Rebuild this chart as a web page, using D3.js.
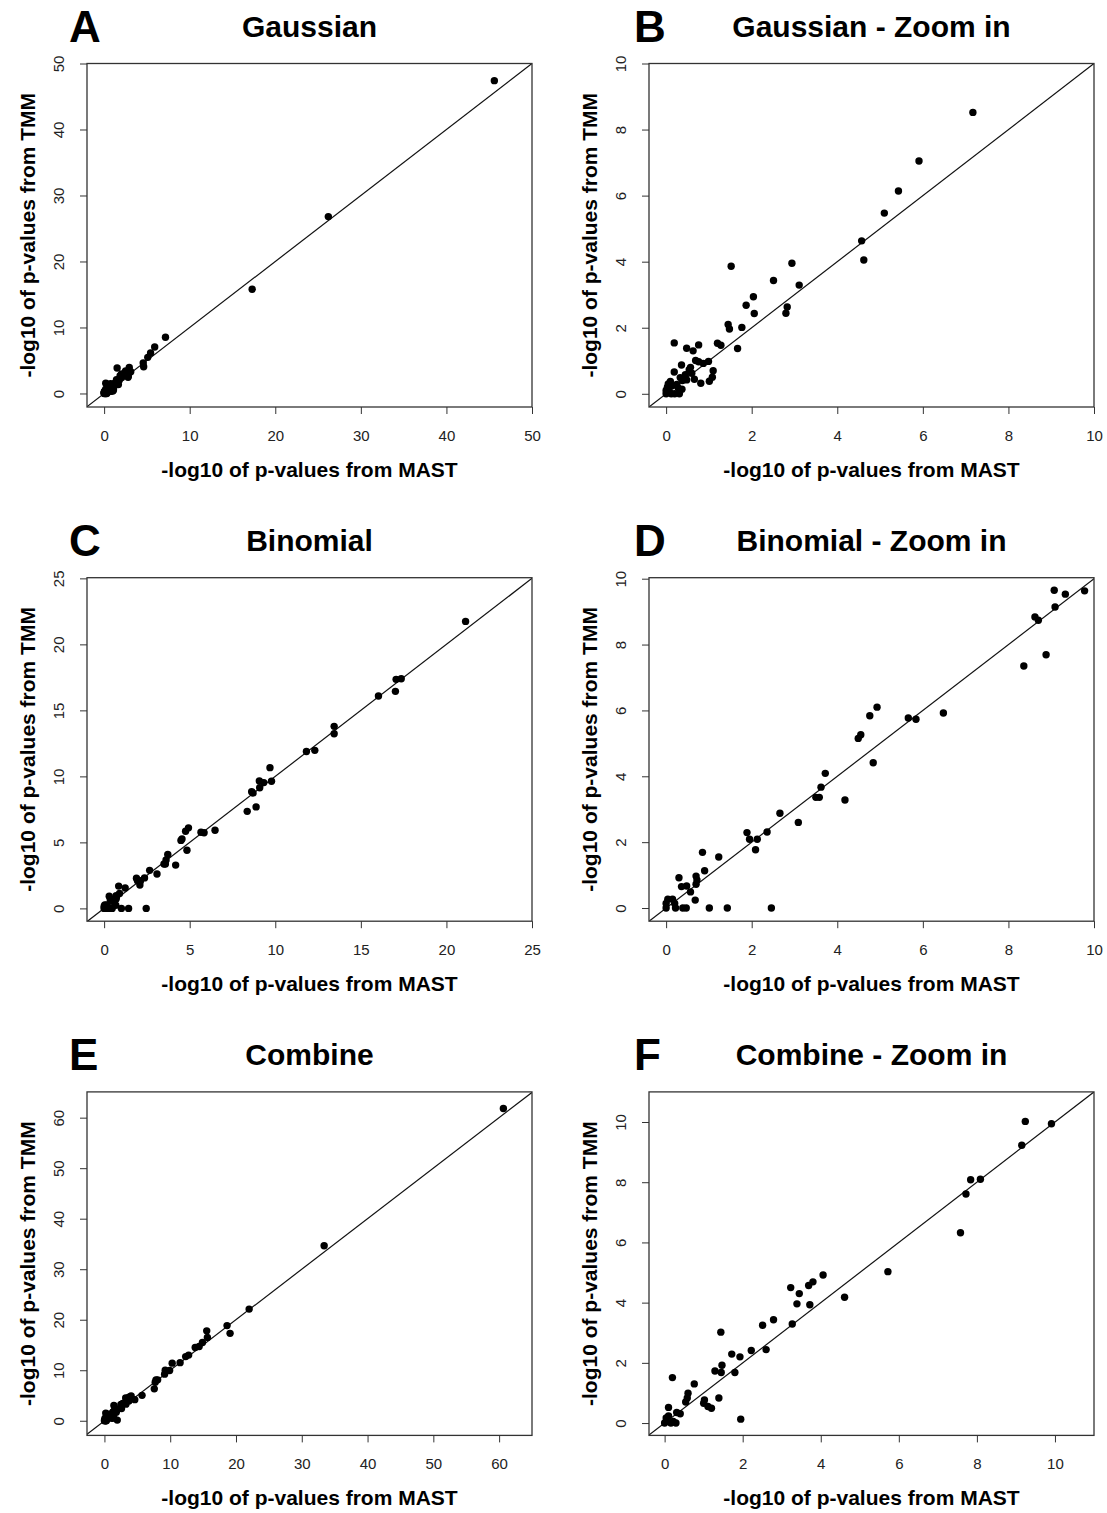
<!DOCTYPE html>
<html>
<head>
<meta charset="utf-8">
<script src="https://cdn.jsdelivr.net/npm/d3@7"></script>
<style>
  body { margin: 0; background: #fff; }
  svg { display: block; }
  text { font-family: "Liberation Sans", Arial, Helvetica, sans-serif; }
</style>
</head>
<body>
<svg id="fig" width="1107" height="1513"></svg>
<script>
// -log10 p-values: [MAST, TMM] for each gene
const gaussian = [
  [45.6, 47.4], [26.2, 26.8], [17.3, 15.8],
  [7.17, 8.52], [5.91, 7.05], [5.43, 6.14], [5.10, 5.47], [4.57, 4.63], [4.62, 4.05],
  [1.52, 3.86], [2.94, 3.95], [2.51, 3.43], [3.11, 3.29], [2.04, 2.94], [1.87, 2.68],
  [2.06, 2.43], [2.83, 2.63], [2.80, 2.44],
  [1.45, 2.10], [1.48, 1.96], [1.77, 2.01], [1.67, 1.37], [1.20, 1.53], [1.28, 1.47],
  [0.19, 1.54], [0.48, 1.38], [0.63, 1.30], [0.76, 1.48],
  [0.69, 1.01], [0.87, 0.92], [0.99, 0.98], [0.36, 0.87], [0.76, 0.97],
  [1.10, 0.70], [1.08, 0.50], [1.01, 0.38], [0.81, 0.32], [0.66, 0.44],
  [0.19, 0.66], [0.54, 0.73], [0.45, 0.58], [0.33, 0.49], [0.10, 0.37], [0.38, 0.40],
  [0.48, 0.42], [0.57, 0.80],
  [0.37, 0.14], [0.31, 0.00], [0.20, 0.00], [0.00, 0.10], [0.00, 0.00], [0.03, 0.20],
  [0.08, 0.04], [0.25, 0.28], [0.60, 0.62], [0.14, 0.24], [0.05, 0.30], [0.28, 0.18],
  [0.12, 0.00], [0.02, 0.06]
];

const binomial = [
  [21.12, 21.74], [17.36, 17.40], [17.06, 17.35], [17.02, 16.44], [16.03, 16.09],
  [13.44, 13.79], [13.44, 13.23], [12.31, 11.97], [11.82, 11.89], [9.69, 10.66],
  [9.78, 9.63], [9.33, 9.53], [9.07, 9.65], [9.09, 9.14], [8.62, 8.84], [8.70, 8.74],
  [8.88, 7.69], [8.36, 7.35],
  [6.48, 5.92], [5.66, 5.77], [5.84, 5.73], [4.93, 6.10], [4.76, 5.84], [4.55, 5.26],
  [4.49, 5.15], [4.84, 4.41],
  [3.72, 4.09], [3.62, 3.67], [3.50, 3.36], [3.58, 3.36], [4.18, 3.28], [2.66, 2.88],
  [3.09, 2.60], [2.36, 2.31],
  [1.89, 2.29], [1.95, 2.09], [2.13, 2.09], [2.09, 1.77], [0.85, 1.69], [1.23, 1.55],
  [0.90, 1.13],
  [0.30, 0.92], [0.70, 0.97], [0.36, 0.65], [0.48, 0.67], [0.70, 0.72], [0.57, 0.49],
  [0.68, 0.24], [0.72, 0.85],
  [1.01, 0.00], [1.43, 0.00], [2.46, 0.00], [0.47, 0.00], [0.39, 0.00], [0.22, 0.00],
  [0.00, 0.00], [0.00, 0.14], [0.04, 0.27], [0.15, 0.27], [0.20, 0.14]
];

const combine = [
  [60.65, 61.8], [33.4, 34.65], [22.0, 22.1], [18.64, 18.84], [19.1, 17.3],
  [15.55, 17.8], [15.65, 16.5], [14.9, 15.5], [14.4, 14.7], [13.8, 14.5],
  [12.8, 13.0], [12.35, 12.7], [11.5, 11.5], [10.3, 11.4],
  [9.91, 9.94], [9.24, 10.02], [9.15, 9.23], [8.09, 8.10], [7.84, 8.08], [7.72, 7.61],
  [7.58, 6.32], [5.72, 5.03], [4.61, 4.18],
  [4.06, 4.92], [3.80, 4.69], [3.69, 4.57], [3.45, 4.30], [3.23, 4.50], [3.39, 3.96],
  [3.72, 3.93], [3.27, 3.29], [2.79, 3.43], [2.51, 3.25],
  [2.60, 2.44], [2.22, 2.41], [1.44, 3.02], [1.72, 2.29], [1.93, 2.20], [1.47, 1.92],
  [1.45, 1.68], [1.29, 1.73], [1.80, 1.68],
  [0.20, 1.51], [0.76, 1.30], [0.60, 0.99], [0.58, 0.83], [0.54, 0.70], [1.02, 0.77],
  [1.00, 0.66], [1.11, 0.55], [1.20, 0.49], [1.39, 0.83], [1.95, 0.13],
  [0.10, 0.52], [0.40, 0.31], [0.31, 0.35], [0.29, 0.00], [0.16, 0.00], [0.00, 0.00],
  [0.04, 0.17], [0.10, 0.24], [0.22, 0.05]
];

// tick labels
const ticksGaussian = [0, 10, 20, 30, 40, 50];
const ticksBinomial = [0, 5, 10, 15, 20, 25];
const ticksCombine = [0, 10, 20, 30, 40, 50, 60];
const ticksZoom = [0, 2, 4, 6, 8, 10];

const xTitle = "-log10 of p-values from MAST";
const yTitle = "-log10 of p-values from TMM";

const panels = [
  { letter: "A", title: "Gaussian", data: gaussian, ticks: ticksGaussian,
    xDom: [-2, 50], yDom: [-2.05, 50], col: 0, row: 0 },
  { letter: "B", title: "Gaussian - Zoom in", data: gaussian, ticks: ticksZoom,
    xDom: [-0.4, 10], yDom: [-0.4, 10], col: 1, row: 0 },
  { letter: "C", title: "Binomial", data: binomial, ticks: ticksBinomial,
    xDom: [-1, 25], yDom: [-0.97, 25.05], col: 0, row: 1 },
  { letter: "D", title: "Binomial - Zoom in", data: binomial, ticks: ticksZoom,
    xDom: [-0.4, 10], yDom: [-0.4, 10.03], col: 1, row: 1 },
  { letter: "E", title: "Combine", data: combine, ticks: ticksCombine,
    xDom: [-2.65, 65], yDom: [-2.9, 65.1], col: 0, row: 2 },
  { letter: "F", title: "Combine - Zoom in", data: combine, ticks: ticksZoom,
    xDom: [-0.4, 11], yDom: [-0.41, 11], col: 1, row: 2 }
];

// plot-box geometry
const boxLeft = [87, 649];
const letterX = [69, 634];
const boxW = 445;
const boxH = 343.5;
const rowTop = r => 63.5 + 514.2 * r;
const ink = "#222";

const svg = d3.select("#fig");

panels.forEach((p, i) => {
  const x0 = boxLeft[p.col];
  const y0 = rowTop(p.row);
  const g = svg.append("g").attr("transform", `translate(${x0},${y0})`);

  const x = d3.scaleLinear().domain(p.xDom).range([0, boxW]);
  const y = d3.scaleLinear().domain(p.yDom).range([boxH, 0]);

  const clipId = `clip-${i}`;
  g.append("clipPath").attr("id", clipId)
    .append("rect").attr("width", boxW).attr("height", boxH);

  const plot = g.append("g").attr("clip-path", `url(#${clipId})`);

  // identity line y = x
  const lo = Math.min(p.xDom[0], p.yDom[0]);
  const hi = Math.max(p.xDom[1], p.yDom[1]);
  plot.append("line")
    .attr("x1", x(lo)).attr("y1", y(lo))
    .attr("x2", x(hi)).attr("y2", y(hi))
    .attr("stroke", "#111").attr("stroke-width", 1.2);

  // points
  const inside = p.data.filter(d =>
    d[0] >= p.xDom[0] && d[0] <= p.xDom[1] && d[1] >= p.yDom[0] && d[1] <= p.yDom[1]);
  plot.selectAll("circle").data(inside).join("circle")
    .attr("cx", d => x(d[0]))
    .attr("cy", d => y(d[1]))
    .attr("r", 3.7)
    .attr("fill", "#000");

  // frame
  g.append("rect")
    .attr("width", boxW).attr("height", boxH)
    .attr("fill", "none").attr("stroke", "#333").attr("stroke-width", 1.3);

  // x axis
  const xa = g.append("g").attr("transform", `translate(0,${boxH})`)
    .call(d3.axisBottom(x).tickValues(p.ticks).tickSize(7).tickPadding(16).tickFormat(d3.format("d")));
  xa.select(".domain").remove();
  xa.selectAll(".tick line").attr("stroke", "#333").attr("stroke-width", 1);
  xa.selectAll(".tick text")
    .attr("fill", ink).style("font-size", "15px")
    .style("font-family", "'Liberation Sans', Arial, sans-serif");

  // y axis (labels parallel to the axis)
  const ya = g.append("g")
    .call(d3.axisLeft(y).tickValues(p.ticks).tickSize(7).tickFormat(d3.format("d")));
  ya.select(".domain").remove();
  ya.selectAll(".tick line").attr("stroke", "#333").attr("stroke-width", 1);
  ya.selectAll(".tick text")
    .attr("x", 0).attr("y", 0).attr("dy", "0.36em")
    .attr("text-anchor", "middle")
    .attr("transform", "translate(-28,0) rotate(-90)")
    .attr("fill", ink).style("font-size", "15px")
    .style("font-family", "'Liberation Sans', Arial, sans-serif");

  // axis titles
  g.append("text")
    .attr("x", boxW / 2).attr("y", boxH + 70)
    .attr("text-anchor", "middle")
    .style("font-size", "21px").style("font-weight", "bold")
    .attr("fill", "#000")
    .text(xTitle);

  g.append("text")
    .attr("transform", `translate(-52,${boxH / 2}) rotate(-90)`)
    .attr("text-anchor", "middle")
    .style("font-size", "21px").style("font-weight", "bold")
    .attr("fill", "#000")
    .text(yTitle);

  // panel title
  g.append("text")
    .attr("x", boxW / 2).attr("y", -27)
    .attr("text-anchor", "middle")
    .style("font-size", "30px").style("font-weight", "bold")
    .attr("fill", "#000")
    .text(p.title);

  // panel letter
  svg.append("text")
    .attr("x", letterX[p.col]).attr("y", y0 - 21.5)
    .style("font-size", "44px").style("font-weight", "bold")
    .attr("fill", "#000")
    .text(p.letter);
});
</script>
</body>
</html>
